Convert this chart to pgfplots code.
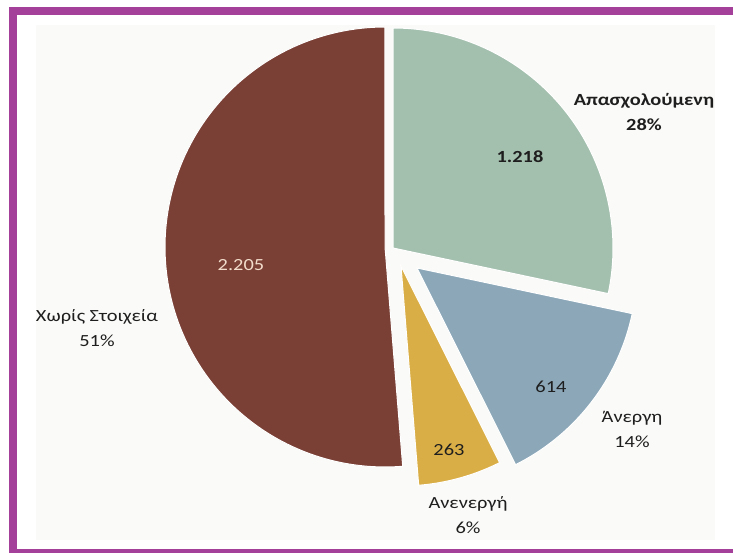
\documentclass[border=0pt]{standalone}
\usepackage{pgfplots}
\pgfplotsset{compat=1.18}
\usepackage{pgfplotstable}
\usepackage{fontspec}
\setmainfont{Carlito}
\definecolor{frame}{HTML}{A4409A}
\definecolor{cgreen}{HTML}{A3BFAE}
\definecolor{cblue}{HTML}{8BA7B8}
\definecolor{cyellow}{HTML}{DAAE46}
\definecolor{cbrown}{HTML}{7A4036}
\definecolor{bgin}{HTML}{FAFAF8}
\definecolor{txt}{HTML}{1E1E1E}
\definecolor{lighttxt}{HTML}{F2DCCB}
\pgfplotstableread{
name value
Apasxoloumeni 1218
Anergi 614
Anenergi 263
XorisStoixeia 2205
}\piedata
\begin{document}
\begin{tikzpicture}
\pgfplotstablegetelem{0}{value}\of\piedata\edef\vA{\pgfplotsretval}
\pgfplotstablegetelem{1}{value}\of\piedata\edef\vB{\pgfplotsretval}
\pgfplotstablegetelem{2}{value}\of\piedata\edef\vC{\pgfplotsretval}
\pgfplotstablegetelem{3}{value}\of\piedata\edef\vD{\pgfplotsretval}
\pgfmathsetmacro\tot{\vA+\vB+\vC+\vD}
\pgfmathsetmacro\aA{90}
\pgfmathsetmacro\aB{90-360*(\vA/\tot)}
\pgfmathsetmacro\aC{\aB-360*(\vB/\tot)}
\pgfmathsetmacro\aD{\aC-360*(\vC/\tot)}
\pgfmathsetmacro\aE{\aD-360*(\vD/\tot)}
\def\R{220}
\begin{axis}[
  width=733pt, height=553pt, scale only axis,
  xmin=0, xmax=733, ymin=0, ymax=553,
  axis lines=none, clip=false,
]
% frame and background
\fill[white] (axis cs:0,0) rectangle (axis cs:733,553);
\fill[bgin] (axis cs:36,13) rectangle (axis cs:715,528);
\fill[frame] (axis cs:9,0) rectangle (axis cs:17,546);
\fill[frame] (axis cs:9,538) rectangle (axis cs:733,546);
\fill[frame] (axis cs:9,0) rectangle (axis cs:733,4);
% slices
\addplot[fill=cbrown, draw=white, line width=1pt, domain=\aE:\aD, samples=120, variable=\t]
  ({385+\R*cos(\t)}, {306+\R*sin(\t)}) -- (axis cs:385,306) -- cycle;
\addplot[fill=cgreen, draw=white, line width=1pt, domain=\aB:\aA, samples=80, variable=\t]
  ({393+\R*cos(\t)}, {305+\R*sin(\t)}) -- (axis cs:393,305) -- cycle;
\addplot[fill=cblue, draw=white, line width=1pt, domain=\aC:\aB, samples=60, variable=\t]
  ({417+\R*cos(\t)}, {285+\R*sin(\t)}) -- (axis cs:417,285) -- cycle;
\addplot[fill=cyellow, draw=white, line width=1pt, domain=\aD:\aC, samples=40, variable=\t]
  ({401+\R*cos(\t)}, {287+\R*sin(\t)}) -- (axis cs:401,287) -- cycle;
% labels
\tikzset{lab/.style={xscale=1.2, align=center, font=\fontsize{17}{25}\selectfont}}
\node[lab, txt, font=\fontsize{17}{25}\selectfont\bfseries] at (axis cs:520,396) {1.218};
\node[lab, txt, font=\fontsize{17}{25}\selectfont\bfseries] at (axis cs:644,441) {Απασχολούμενη\\28\%};
\node[lab, txt] at (axis cs:551,166) {614};
\node[lab, txt] at (axis cs:632,124) {Άνεργη\\14\%};
\node[lab, txt] at (axis cs:449,103) {263};
\node[lab, txt] at (axis cs:468,38) {Ανενεργή\\6\%};
\node[lab, lighttxt] at (axis cs:241,288) {2.205};
\node[lab, txt] at (axis cs:97,225) {Χωρίς Στοιχεία\\51\%};
\end{axis}
\end{tikzpicture}
\end{document}
